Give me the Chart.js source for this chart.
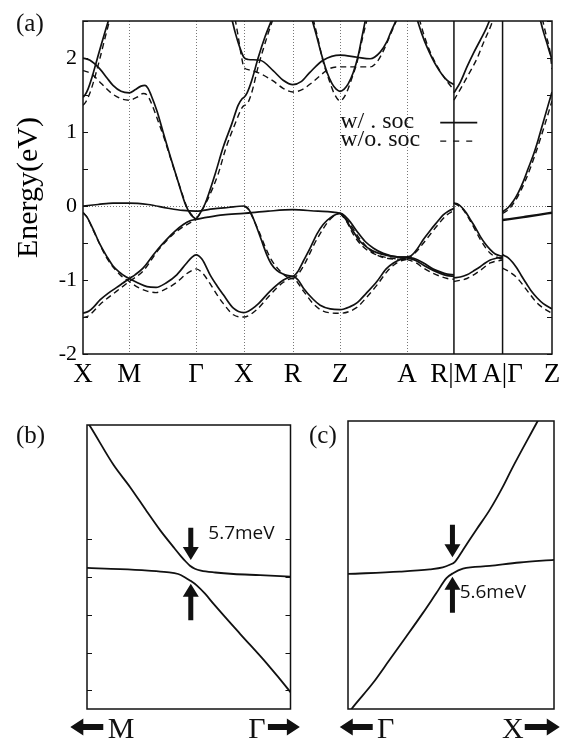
<!DOCTYPE html>
<html>
<head>
<meta charset="utf-8">
<script src="https://cdn.jsdelivr.net/npm/chart.js@4.4.1/dist/chart.umd.min.js"></script>
<style>
  body { margin: 0; background: #fff; width: 567px; height: 738px; position: relative; overflow: hidden; }
  canvas { position: absolute; }
  #bandChart { left: 0; top: 0; }
  #gapChartB { left: 0; top: 410px; }
  #gapChartC { left: 300px; top: 410px; }
</style>
</head>
<body>
<canvas id="bandChart" width="567" height="405"></canvas>
<canvas id="gapChartB" width="305" height="328"></canvas>
<canvas id="gapChartC" width="267" height="328"></canvas>
<script>
// ---- panel (a): k path and labels ----
const kPoints = [0, 46.3, 113, 160.7, 209.7, 257, 323.7, 370.7, 419.3, 468.7];
const kLabels = ["X", "M", "Γ", "X", "R", "Z", "A", "R|M", "A|Γ", "Z"];
const kDotted = [46.3, 113, 160.7, 209.7, 257, 323.7];
const kBreaks = [370.7, 419.3];
const eTicks = [-2, -1.5, -1, -0.5, 0, 0.5, 1, 1.5, 2, 2.5];
const legendLabels = ["w/ . soc", "w/o. soc"];

// bands with SOC (solid), [k, E in eV]
const soc1 = [[0,1.47],[2,1.50],[5,1.58],[9,1.74],[13,1.93],[18,2.17],[23,2.40],[26,2.53]];
const soc2 = [[0,2.00],[7,1.97],[17,1.85],[24,1.73],[30,1.63],[38,1.55],[46.3,1.53],[52,1.57],[58,1.62],[62,1.63],[65,1.59],[68,1.50],[74,1.28],[80,1.00],[87,0.68],[95,0.33],[103,0.00],[108,-0.12],[113,-0.18]];
const soc3 = [[113,-0.18],[116,-0.12],[122,0.03],[132,0.43],[140,0.79],[148.7,1.11],[155,1.36],[159,1.45],[161,1.47],[164,1.53],[168.7,1.70],[175,2.00],[182,2.29],[189,2.53]];
const soc4 = [[148.7,2.53],[152,2.35],[156,2.17],[160.7,2.01],[165,1.98],[177,1.97],[190,1.83],[200,1.70],[209.7,1.64],[218,1.68],[227,1.81],[240,1.97],[257,2.04],[274,2.01],[287,1.99],[297,2.08],[303.7,2.22],[307,2.33],[313.7,2.53]];
const soc5 = [[228.7,2.53],[233,2.32],[238.7,2.03],[244,1.80],[249,1.65],[253,1.58],[257,1.55],[261,1.58],[265,1.65],[270,1.80],[275,2.03],[279,2.30],[282.5,2.53]];
const soc6 = [[333.7,2.53],[338,2.35],[343.7,2.15],[353.7,1.88],[363.7,1.70],[370.7,1.64]];
const soc7 = [[0,0.00],[15,0.02],[30,0.04],[46.3,0.04],[65,0.02],[85,-0.03],[100,-0.06],[113,-0.07],[130,-0.04],[145,-0.02],[160.7,0.00],[164,-0.02],[168,-0.10],[173.7,-0.29],[178,-0.45],[183.7,-0.66],[188,-0.78],[193.7,-0.87],[200,-0.92],[205,-0.94],[209.7,-0.95],[215,-0.88],[220,-0.75],[227,-0.57],[233.7,-0.38],[240,-0.25],[247,-0.16],[257,-0.10],[265,-0.18],[273.7,-0.34],[282,-0.48],[290.3,-0.57],[300,-0.64],[307,-0.67],[315,-0.69],[323.7,-0.69]];
const soc8 = [[113,-0.18],[125,-0.15],[140,-0.12],[160.7,-0.10],[185,-0.07],[209.7,-0.05],[235,-0.07],[257,-0.10],[262,-0.17],[268,-0.30],[277,-0.48],[285,-0.57],[293.7,-0.63],[305,-0.67],[317,-0.69],[323.7,-0.69]];
const soc9 = [[0,-0.09],[4,-0.15],[10.3,-0.32],[17,-0.52],[23.7,-0.68],[30,-0.81],[37,-0.90],[42,-0.95],[46.3,-0.98],[55,-1.04],[64,-1.09],[73,-1.10],[83,-1.04],[93.7,-0.93],[103,-0.78],[109,-0.69],[113,-0.66],[119,-0.72],[127,-0.93],[134,-1.08],[140.3,-1.20],[150.3,-1.38],[160.7,-1.44],[173.7,-1.34],[187,-1.15],[200.3,-1.00],[209.7,-0.95],[215,-1.00],[220.3,-1.11],[230,-1.26],[237,-1.34],[247,-1.39],[257,-1.40],[267,-1.36],[273.7,-1.31],[283,-1.18],[293.7,-1.02],[303,-0.85],[310.3,-0.77],[318,-0.72],[323.7,-0.70]];
const soc10 = [[0,-1.45],[6,-1.42],[11,-1.36],[17,-1.27],[25,-1.18],[33.7,-1.10],[40,-1.04],[46.3,-0.98],[52,-0.93],[60,-0.84],[67,-0.72],[75,-0.58],[83.7,-0.45],[92,-0.34],[100.3,-0.25],[107,-0.20],[113,-0.18]];
const soc11 = [[323.7,-0.69],[328,-0.67],[334,-0.58],[340.3,-0.45],[347,-0.33],[353.7,-0.22],[360,-0.12],[365,-0.07],[370.7,-0.035]];
const soc12 = [[323.7,-0.69],[333,-0.72],[340.3,-0.77],[350,-0.85],[357,-0.89],[364,-0.92],[370.7,-0.93]];
const soc12b = [[323.7,-0.70],[333,-0.74],[340.3,-0.80],[350,-0.87],[357,-0.91],[364,-0.94],[370.7,-0.95]];
const soc13 = [[370.7,0.04],[374,0.03],[378.7,-0.02],[383,-0.09],[387,-0.18],[392,-0.29],[397,-0.41],[402,-0.51],[407,-0.59],[412,-0.65],[419.3,-0.68]];
const soc14 = [[370.7,-0.97],[377,-0.96],[383.7,-0.93],[390,-0.88],[397,-0.82],[402,-0.77],[407,-0.73],[412,-0.71],[419.3,-0.69]];
const soc15 = [[370.7,1.53],[377,1.67],[383.7,1.88],[390,2.06],[397,2.24],[403,2.40],[407,2.53]];
const soc16 = [[419.3,-0.08],[425,-0.02],[430.3,0.07],[435,0.18],[440.3,0.34],[445,0.51],[450.3,0.70],[455,0.90],[460.3,1.15],[465,1.37],[468.7,1.54]];
const soc17 = [[456.7,2.53],[460,2.36],[463.7,2.20],[466,2.09],[468.7,1.98]];
const soc18 = [[419.3,-0.19],[440,-0.15],[455,-0.12],[468.7,-0.09]];
const soc19 = [[419.3,-0.66],[425,-0.70],[433.7,-0.84],[438,-0.94],[443.7,-1.06],[448,-1.15],[453.7,-1.24],[460,-1.32],[468.7,-1.39]];

// bands without SOC (dashed)
const nosoc1 = [[0,1.36],[3,1.41],[7,1.53],[11,1.70],[17,2.00],[22,2.27],[27,2.53]];
const nosoc2 = [[0,1.83],[8,1.79],[18,1.66],[28,1.53],[38,1.45],[46.3,1.43],[54,1.47],[60,1.52],[64,1.50],[68,1.40],[75,1.15],[82,0.88],[89,0.58],[97,0.25],[105,-0.05],[113,-0.18]];
const nosoc3 = [[113,-0.18],[118,-0.08],[125,0.10],[135,0.43],[143,0.79],[152,1.11],[159,1.33],[165,1.40],[169,1.55],[175,1.88],[185,2.33],[190,2.53]];
const nosoc4 = [[152,2.53],[155,2.30],[158,2.05],[161,1.87],[166,1.84],[177,1.79],[190,1.69],[200,1.59],[209.7,1.54],[220,1.58],[230,1.68],[247,1.86],[257,1.88],[287,1.88],[294,1.95],[301,2.12],[307,2.31],[314,2.53]];
const nosoc5 = [[230,2.53],[235,2.25],[240,1.95],[246,1.70],[251,1.52],[257,1.42],[263,1.52],[268,1.70],[274,1.95],[279,2.25],[284,2.53]];
const nosoc6 = [[336,2.53],[341,2.30],[347,2.08],[357,1.82],[364,1.68],[370.7,1.57]];
const nosoc7 = [[160.7,0.00],[165,-0.04],[170,-0.17],[176,-0.35],[182,-0.55],[188,-0.72],[195,-0.85],[203,-0.95],[209.7,-0.98],[215,-0.92],[220,-0.82],[233.7,-0.45],[247,-0.18],[257,-0.10],[267,-0.25],[277,-0.45],[290,-0.63],[305,-0.71],[323.7,-0.72]];
const nosoc8 = [[257,-0.10],[263,-0.20],[270,-0.38],[279,-0.54],[290,-0.64],[305,-0.70],[323.7,-0.72]];
const nosoc9 = [[0,-0.09],[4,-0.15],[10.3,-0.33],[23.7,-0.70],[37,-0.93],[46.3,-1.02],[55,-1.10],[64,-1.15],[73,-1.17],[83,-1.12],[93.7,-1.03],[103,-0.92],[109,-0.87],[113,-0.85],[119,-0.90],[127,-1.05],[134,-1.20],[140.3,-1.32],[150.3,-1.47],[160.7,-1.50],[173.7,-1.40],[187,-1.20],[200.3,-1.03],[209.7,-0.98],[220.3,-1.15],[230,-1.32],[240,-1.42],[257,-1.45],[273.7,-1.37],[283,-1.24],[293.7,-1.07],[303,-0.90],[310.3,-0.80],[318,-0.74],[323.7,-0.72]];
const nosoc10 = [[0,-1.51],[6,-1.48],[17,-1.33],[33.7,-1.15],[46.3,-1.02],[60,-0.88],[75,-0.60],[92,-0.36],[113,-0.18]];
const nosoc11 = [[323.7,-0.72],[333,-0.62],[340.3,-0.50],[353.7,-0.27],[363.7,-0.12],[370.7,-0.06]];
const nosoc12 = [[323.7,-0.72],[333,-0.77],[340.3,-0.84],[350,-0.91],[357,-0.95],[364,-0.98],[370.7,-0.99]];
const nosoc13 = [[370.7,0.04],[378.7,-0.03],[387,-0.20],[397,-0.45],[407,-0.64],[419.3,-0.72]];
const nosoc14 = [[370.7,-1.02],[383.7,-0.98],[397,-0.87],[407,-0.77],[419.3,-0.73]];
const nosoc15 = [[370.7,1.43],[378,1.60],[387,1.82],[394,2.00],[400,2.20],[408,2.45],[410,2.53]];
const nosoc16 = [[419.3,-0.10],[425,-0.05],[432,0.07],[442,0.34],[452,0.70],[462,1.12],[468.7,1.42]];
const nosoc17 = [[459,2.53],[463,2.30],[466.5,2.10],[468.7,1.85]];
const nosoc19 = [[419.3,-0.84],[425,-0.88],[433.7,-0.97],[443.7,-1.14],[453.7,-1.31],[460,-1.38],[468.7,-1.45]];

const socBands = [soc1, soc2, soc3, soc4, soc5, soc6, soc7, soc8, soc9, soc10, soc11, soc12, soc12b, soc13, soc14, soc15, soc16, soc17, soc19];
const noSocBands = [nosoc1, nosoc2, nosoc3, nosoc4, nosoc5, nosoc6, nosoc7, nosoc8, nosoc9, nosoc10, nosoc11, nosoc12, nosoc13, nosoc14, nosoc15, nosoc16, nosoc17, nosoc19];

// ---- panels (b) and (c): zoom near the gaps (arbitrary units) ----
const bUpper = [[0.05,7.05],[0.16,6.96],[1.3,5.95],[2.12,5.36],[2.94,4.72],[3.6,4.22],[4.25,3.78],[4.6,3.55],[4.85,3.40],[5.06,3.29],[5.3,3.21],[5.6,3.16],[6.3,3.11],[7.2,3.07],[8.5,3.04],[10,3.00]];
const bLower = [[0,3.23],[1.63,3.20],[3.0,3.16],[3.92,3.12],[4.48,3.07],[4.82,2.98],[5.06,2.90],[5.39,2.77],[5.8,2.55],[6.21,2.29],[7.51,1.50],[8.82,0.72],[9.93,0.0],[10,-0.05]];
const cUpper = [[0,3.05],[2.51,3.11],[3.97,3.17],[4.6,3.22],[4.94,3.29],[5.19,3.37],[5.58,3.68],[6.23,4.21],[6.88,4.73],[7.52,5.34],[7.93,5.78],[9.15,7.0],[9.3,7.15]];
const cLower = [[0.05,-0.58],[0.17,-0.49],[1.21,0.19],[2.02,0.80],[2.83,1.41],[3.64,2.03],[4.29,2.55],[4.78,2.94],[5.1,3.07],[5.58,3.19],[6.88,3.26],[8.33,3.35],[10,3.42]];
const bTicks = [0, 1, 2, 3, 4];
// gap arrows: [x, tail, tip]
const bArrows = [[5.1, 4.29, 3.44], [5.1, 1.85, 2.81]];
const cArrows = [[5.07, 4.34, 3.49], [5.07, 2.03, 2.98]];
const bGapText = ["5.7meV", 5.96, 4.13];
const cGapText = ["5.6meV", 5.42, 2.55];
// direction labels: [text, x] and arrows [from, to]
const bDirLabels = [["M", 1.68], ["Γ", 8.35]];
const bDirArrows = [[0.8, -0.82], [8.89, 10.46]];
const cDirLabels = [["Γ", 1.83], ["X", 8.0]];
const cDirArrows = [[1.2, -0.4], [8.58, 10.28]];

Chart.defaults.font.family = '"Liberation Serif", "Times New Roman", serif';
Chart.defaults.color = "#000";

function toXY(points) {
	return points.map(p => ({ x: p[0], y: p[1] }));
}

function bandSet(points, dashed, width) {
	return {
		data: toXY(points),
		borderColor: "#111",
		borderWidth: width || (dashed ? 1.4 : 1.7),
		borderDash: dashed ? [6, 4] : [],
		pointRadius: 0,
		cubicInterpolationMode: "monotone",
		fill: false,
		order: dashed ? 2 : 1,
	};
}

function blockArrow(ctx, x0, y0, x1, y1, shaft, headW, headL) {
	const dx = x1 - x0, dy = y1 - y0;
	const len = Math.hypot(dx, dy);
	const ux = dx / len, uy = dy / len;
	const nx = -uy, ny = ux;
	const bx = x1 - ux * headL, by = y1 - uy * headL;
	ctx.beginPath();
	ctx.moveTo(x0 + nx * shaft / 2, y0 + ny * shaft / 2);
	ctx.lineTo(bx + nx * shaft / 2, by + ny * shaft / 2);
	ctx.lineTo(bx + nx * headW / 2, by + ny * headW / 2);
	ctx.lineTo(x1, y1);
	ctx.lineTo(bx - nx * headW / 2, by - ny * headW / 2);
	ctx.lineTo(bx - nx * shaft / 2, by - ny * shaft / 2);
	ctx.lineTo(x0 - nx * shaft / 2, y0 - ny * shaft / 2);
	ctx.closePath();
	ctx.fill();
}

function strokeLine(ctx, x0, y0, x1, y1) {
	ctx.beginPath();
	ctx.moveTo(x0, y0);
	ctx.lineTo(x1, y1);
	ctx.stroke();
}

// guides, frame, inner ticks and legend for panel (a)
const bandDecor = {
	id: "bandDecor",
	beforeDatasetsDraw(chart) {
		const { ctx, chartArea: a, scales: { x, y } } = chart;
		ctx.save();
		ctx.strokeStyle = "#777";
		ctx.lineWidth = 1;
		ctx.setLineDash([1, 2]);
		kDotted.forEach(k => {
			const px = Math.round(x.getPixelForValue(k)) + 0.5;
			strokeLine(ctx, px, a.top, px, a.bottom);
		});
		const py0 = Math.round(y.getPixelForValue(0)) + 0.5;
		strokeLine(ctx, a.left, py0, a.right, py0);
		ctx.restore();
	},
	afterDatasetsDraw(chart) {
		const { ctx, chartArea: a, scales: { x, y } } = chart;
		ctx.save();
		ctx.strokeStyle = "#111";
		ctx.lineWidth = 1.5;
		kBreaks.forEach(k => {
			const px = x.getPixelForValue(k);
			strokeLine(ctx, px, a.top, px, a.bottom);
		});
		ctx.strokeRect(a.left, a.top, a.right - a.left, a.bottom - a.top);
		ctx.lineWidth = 1;
		eTicks.forEach(v => {
			const py = Math.round(y.getPixelForValue(v)) + 0.5;
			strokeLine(ctx, a.left, py, a.left + 5, py);
			strokeLine(ctx, a.right - 5, py, a.right, py);
		});

		// legend
		ctx.fillStyle = "#111";
		ctx.font = '24px "Liberation Serif", serif';
		ctx.textBaseline = "middle";
		ctx.textAlign = "left";
		const lx = x.getPixelForValue(257);
		const ly = [y.getPixelForValue(1.14), y.getPixelForValue(0.89)];
		ctx.fillText(legendLabels[0], lx, ly[0]);
		ctx.fillText(legendLabels[1], lx, ly[1]);
		const sx0 = x.getPixelForValue(357), sx1 = x.getPixelForValue(394);
		ctx.lineWidth = 1.6;
		strokeLine(ctx, sx0, ly[0] + 1, sx1, ly[0] + 1);
		ctx.lineWidth = 1.4;
		ctx.setLineDash([6, 7]);
		strokeLine(ctx, sx0, ly[1] + 1, sx1, ly[1] + 1);
		ctx.setLineDash([]);

		// panel label
		ctx.font = '25px "Liberation Serif", serif';
		ctx.fillText("(a)", 16, 24);
		ctx.restore();
	},
};

new Chart(document.getElementById("bandChart"), {
	type: "line",
	data: {
		datasets: [
			...socBands.map(b => bandSet(b, false)),
			bandSet(soc18, false, 2.4),
			...noSocBands.map(b => bandSet(b, true)),
		],
	},
	options: {
		responsive: false,
		animation: false,
		events: [],
		layout: { padding: { left: 0, top: 21, right: 15, bottom: 0 } },
		plugins: { legend: { display: false }, tooltip: { enabled: false } },
		scales: {
			x: {
				type: "linear",
				min: 0,
				max: 468.7,
				afterBuildTicks: s => {
					s.ticks = kPoints.map(v => ({ value: v }));
				},
				afterFit: s => {
					s.height = 51;
				},
				ticks: {
					autoSkip: false,
					maxRotation: 0,
					padding: 5,
					font: { size: 27 },
					callback: (v, i) => kLabels[i],
				},
				grid: { display: false, drawTicks: false },
				border: { display: false },
			},
			y: {
				min: -2,
				max: 2.5,
				afterFit: s => {
					s.width = 83;
				},
				ticks: {
					stepSize: 1,
					padding: 6,
					font: { size: 22 },
					callback: v => (Number.isInteger(v) ? String(v) : ""),
				},
				grid: { display: false, drawTicks: false },
				border: { display: false },
				title: {
					display: true,
					text: "Energy(eV)",
					font: { size: 30 },
					padding: { top: 11, bottom: 0 },
				},
			},
		},
	},
	plugins: [bandDecor],
});

// decoration for the two gap insets
function insetDecor(cfg) {
	return {
		id: "insetDecor",
		afterDatasetsDraw(chart) {
			const { ctx, chartArea: a, scales: { x, y } } = chart;
			ctx.save();
			ctx.strokeStyle = "#111";
			ctx.fillStyle = "#111";
			ctx.lineWidth = 1.5;
			ctx.strokeRect(a.left, a.top, a.right - a.left, a.bottom - a.top);
			ctx.lineWidth = 1;
			cfg.ticks.forEach(v => {
				const py = Math.round(y.getPixelForValue(v)) + 0.5;
				strokeLine(ctx, a.left, py, a.left + 5, py);
				strokeLine(ctx, a.right - 5, py, a.right, py);
			});
			cfg.arrows.forEach(ar => {
				const px = x.getPixelForValue(ar[0]);
				blockArrow(ctx, px, y.getPixelForValue(ar[1]), px, y.getPixelForValue(ar[2]), 5, 16, 13);
			});
			ctx.font = '19px "Open Sans", sans-serif';
			ctx.textAlign = "left";
			ctx.textBaseline = "middle";
			ctx.fillText(cfg.gapText[0], x.getPixelForValue(cfg.gapText[1]), y.getPixelForValue(cfg.gapText[2]));

			// k-direction labels below the frame
			const ay = a.bottom + 18;
			cfg.dirArrows.forEach(d => {
				blockArrow(ctx, x.getPixelForValue(d[0]), ay, x.getPixelForValue(d[1]), ay, 6, 17, 13);
			});
			ctx.font = '30px "Liberation Serif", serif';
			ctx.textAlign = "center";
			ctx.textBaseline = "alphabetic";
			cfg.dirLabels.forEach(l => {
				ctx.fillText(l[0], x.getPixelForValue(l[1]), a.bottom + 29);
			});

			ctx.font = '25px "Liberation Serif", serif';
			ctx.textAlign = "left";
			ctx.textBaseline = "middle";
			ctx.fillText(cfg.label, cfg.labelX, 26);
			ctx.restore();
		},
	};
}

function insetChart(id, curves, yMax, pad, yWidth, decor) {
	return new Chart(document.getElementById(id), {
		type: "line",
		data: { datasets: curves.map(c => bandSet(c, false, 1.8)) },
		options: {
			responsive: false,
			animation: false,
			events: [],
			layout: { padding: pad },
			plugins: { legend: { display: false }, tooltip: { enabled: false } },
			scales: {
				x: {
					type: "linear",
					min: 0,
					max: 10,
					ticks: { display: false },
					grid: { display: false, drawTicks: false },
					border: { display: false },
					afterFit: s => {
						s.height = 29;
					},
				},
				y: {
					min: -0.49,
					max: yMax,
					ticks: { display: false },
					grid: { display: false, drawTicks: false },
					border: { display: false },
					afterFit: s => {
						s.width = yWidth;
					},
				},
			},
		},
		plugins: [decor],
	});
}

insetChart("gapChartB", [bUpper, bLower], 7.0, { left: 0, top: 15, right: 14.5, bottom: 0 }, 87,
	insetDecor({ ticks: bTicks, arrows: bArrows, gapText: bGapText, dirLabels: bDirLabels, dirArrows: bDirArrows, label: "(b)", labelX: 16 }));

insetChart("gapChartC", [cUpper, cLower], 7.06, { left: 0, top: 11, right: 13, bottom: 0 }, 48,
	insetDecor({ ticks: [], arrows: cArrows, gapText: cGapText, dirLabels: cDirLabels, dirArrows: cDirArrows, label: "(c)", labelX: 9 }));
</script>
</body>
</html>
